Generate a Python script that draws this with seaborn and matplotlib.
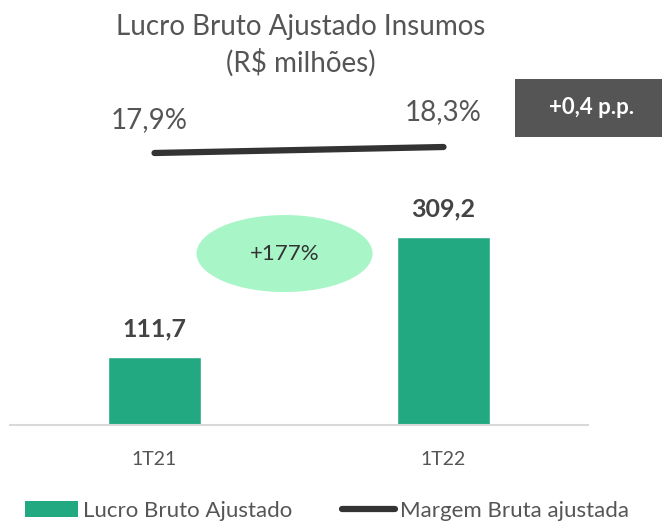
import matplotlib
matplotlib.use("Agg")
import matplotlib.pyplot as plt
from matplotlib.patches import Ellipse, Patch
from matplotlib.lines import Line2D
import seaborn as sns

# dados
periodos = ["1T21", "1T22"]
lucro_bruto = [111.7, 309.2]
margem = [17.9, 18.3]
rotulos_lucro = ["111,7", "309,2"]
rotulos_margem = ["17,9%", "18,3%"]
variacao = "+177%"
variacao_margem = "+0,4 p.p."

VERDE = "#23a982"
CINZA = "#555555"

sns.set_style("white")
plt.rcParams['font.family'] = ['Lato', 'DejaVu Sans']

W, H = 662, 523
fig = plt.figure(figsize=(W / 100, H / 100), dpi=100)

# eixo das barras: de y=100 a y=425 px (do topo)
ax = fig.add_axes([10 / W, (H - 425) / H, 578 / W, 325 / H])
sns.barplot(x=periodos, y=lucro_bruto, color=VERDE, width=0.32, saturation=1, ax=ax)
ax.set_xlim(-0.5, 1.5)
ax.set_ylim(0, 325 / 0.608)
for i, v in enumerate(lucro_bruto):
    ax.text(i, v + 47, rotulos_lucro[i], ha="center", va="center",
            fontsize=18, fontweight="bold", color="#444444")
sns.despine(ax=ax, left=True, top=True, right=True)
ax.spines["bottom"].set_color("#d9d9d9")
ax.spines["bottom"].set_linewidth(1.5)
ax.set_yticks([])
ax.tick_params(axis="x", length=0, pad=19, labelsize=14, labelcolor=CINZA)
ax.set_xlabel("")
ax.set_ylabel("")

# elipse da variacao
ax.add_patch(Ellipse((0.45, 282), width=176 / 289, height=77 / 0.608,
                     facecolor="#a8f5c8", edgecolor="none", zorder=1))
ax.text(0.45, 282, variacao, ha="center", va="center", fontsize=16, color="#333333")

# margem na linha de cima
ax2 = ax.twinx()
f1, f2 = (425 - 153) / 325, (425 - 147) / 325
escala = (margem[1] - margem[0]) / (f2 - f1)
lo = margem[0] - f1 * escala
ax2.set_ylim(lo, lo + escala)
sns.lineplot(x=[0, 1], y=margem, color="#333333", linewidth=4.5, ax=ax2,
             solid_capstyle="round")
ax2.set_yticks([])
ax2.set_ylabel("")
for s in ax2.spines.values():
    s.set_visible(False)
ax2.text(-0.02, margem[0] + 33 / 325 * escala, rotulos_margem[0], ha="center", va="center",
         fontsize=20, color=CINZA)
ax2.text(1.0, margem[1] + 35 / 325 * escala, rotulos_margem[1], ha="center", va="center",
         fontsize=20, color=CINZA)

# caixa +0,4 p.p.
fig.patches.append(plt.Rectangle((515 / W, (H - 137) / H), 147 / W, 58 / H,
                                 transform=fig.transFigure, facecolor=CINZA,
                                 edgecolor="none"))
fig.text(592 / W, (H - 107) / H, variacao_margem, ha="center", va="center",
         fontsize=16, fontweight="bold", color="white")

# titulo
fig.text(301 / W, (H - 27) / H, "Lucro Bruto Ajustado Insumos", ha="center", va="center",
         fontsize=20, color=CINZA)
fig.text(301 / W, (H - 63) / H, "(R$ milhões)", ha="center", va="center",
         fontsize=20, color=CINZA)

# legenda
handles = [Patch(facecolor=VERDE, edgecolor="none", label="Lucro Bruto Ajustado"),
           Line2D([0], [0], color="#333333", linewidth=4.5, solid_capstyle="round",
                  label="Margem Bruta ajustada")]
fig.legend(handles=handles, loc="center", bbox_to_anchor=(327 / W, (H - 511) / H),
           ncol=2, frameon=False, fontsize=16, handlelength=2.4, handleheight=0.75,
           handletextpad=0.25, columnspacing=2.2, labelcolor=CINZA)

fig.savefig("out.png", dpi=100)
